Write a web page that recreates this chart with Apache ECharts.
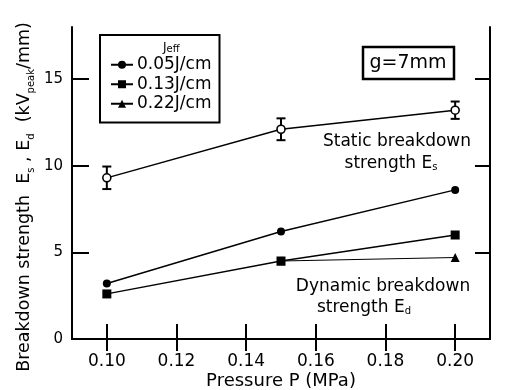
<!DOCTYPE html>
<html>
<head>
<meta charset="utf-8">
<script src="https://cdn.jsdelivr.net/npm/echarts@6.0.0/dist/echarts.min.js"></script>
<style>
  html, body { margin: 0; padding: 0; background: #fff; }
  #chart { width: 506px; height: 390px; }
</style>
</head>
<body>
<div id="chart"></div>
<script>
// pressure (MPa)
const pressure = [0.10, 0.15, 0.20]
const xTicks = [0.10, 0.12, 0.14, 0.16, 0.18, 0.20]
const yTicks = [0, 5, 10, 15]

// static breakdown strength Es with error
const staticEs = [9.3, 12.1, 13.2]
const staticErr = [0.65, 0.63, 0.5]

// dynamic breakdown strength Ed for each Jeff
const dyn005 = [3.2, 6.2, 8.6]
const dyn013 = [2.6, 4.5, 6.0]
const dyn022 = [null, 4.5, 4.7]

const seriesNames = ['0.05J/cm', '0.13J/cm', '0.22J/cm']

const font = 'DejaVu Sans, sans-serif'
const pairs = (ys) => pressure.map((x, i) => [x, ys[i]]).filter((d) => d[1] != null)

const chart = echarts.init(document.getElementById('chart'))

const tickCommon = {
  inside: true,
  length: 15,
  lineStyle: { color: '#000', width: 2 },
}

const subText = (size) => ({
  n: { fontSize: size, fontFamily: font, fill: '#000' },
  s: { fontSize: 10, fontFamily: font, fill: '#000', padding: [6, 0, 0, 0] },
})

chart.setOption({
  animation: false,
  backgroundColor: '#fff',
  textStyle: { fontFamily: font },
  grid: { left: 72, right: 16, top: 27, bottom: 51, outerBoundsMode: 'none', containLabel: false },
  legend: {
    data: seriesNames,
    orient: 'vertical',
    left: 100,
    top: 35,
    padding: [20, 8, 9, 10],
    itemGap: 0,
    itemWidth: 22,
    itemHeight: 10,
    borderColor: '#000',
    borderWidth: 2,
    backgroundColor: '#fff',
    textStyle: { fontSize: 17, lineHeight: 19.5, color: '#000', fontFamily: font, padding: [0, 0, 0, -1] },
  },
  xAxis: [
    {
      type: 'value',
      min: 0.09,
      max: 0.21,
      name: 'Pressure P (MPa)',
      nameLocation: 'middle',
      nameGap: 33,
      nameMoveOverlap: false,
      nameTextStyle: { fontSize: 18, color: '#000', fontFamily: font },
      axisLine: { lineStyle: { color: '#000', width: 2 } },
      axisTick: { ...tickCommon, customValues: xTicks },
      axisLabel: {
        customValues: xTicks,
        margin: 14,
        fontSize: 17,
        color: '#000',
        formatter: (v) => v.toFixed(2),
      },
      splitLine: { show: false },
    },
    {
      type: 'value',
      position: 'top',
      min: 0.09,
      max: 0.21,
      axisLine: { show: true, lineStyle: { color: '#000', width: 2 } },
      axisTick: { ...tickCommon, length: 12, customValues: xTicks },
      axisLabel: { show: false },
      splitLine: { show: false },
    },
  ],
  yAxis: [
    {
      type: 'value',
      min: 0,
      max: 18,
      name: '{n|Breakdown strength  E}{s|s}{n| , E}{s|d}{n|  (kV}{s|peak}{n|/mm)}',
      nameLocation: 'middle',
      nameGap: 39,
      nameMoveOverlap: false,
      nameTextStyle: {
        padding: [0, 28, 0, 0],
        rich: {
          n: { fontSize: 17.5, color: '#000', fontFamily: font, lineHeight: 20, verticalAlign: 'bottom' },
          s: { fontSize: 10, color: '#000', fontFamily: font, lineHeight: 20, verticalAlign: 'bottom', padding: [0, 0, -3, 0] },
        },
      },
      axisLine: { show: true, lineStyle: { color: '#000', width: 2 } },
      axisTick: { ...tickCommon, length: 17, customValues: yTicks },
      axisLabel: { customValues: yTicks, margin: 9, fontSize: 15, color: '#000' },
      splitLine: { show: false },
    },
    {
      type: 'value',
      position: 'right',
      min: 0,
      max: 18,
      axisLine: { show: true, lineStyle: { color: '#000', width: 2 } },
      axisTick: { ...tickCommon, customValues: yTicks },
      axisLabel: { show: false },
      splitLine: { show: false },
    },
  ],
  series: [
    {
      name: 'Es error',
      type: 'custom',
      z: 3,
      data: pressure.map((x, i) => [x, staticEs[i] - staticErr[i], staticEs[i] + staticErr[i]]),
      renderItem: (params, api) => {
        const top = api.coord([api.value(0), api.value(2)])
        const bot = api.coord([api.value(0), api.value(1)])
        const w = 4.5
        const st = { stroke: '#000', lineWidth: 2 }
        return {
          type: 'group',
          children: [
            { type: 'line', shape: { x1: top[0], y1: top[1], x2: bot[0], y2: bot[1] }, style: st },
            { type: 'line', shape: { x1: top[0] - w, y1: top[1], x2: top[0] + w, y2: top[1] }, style: st },
            { type: 'line', shape: { x1: bot[0] - w, y1: bot[1], x2: bot[0] + w, y2: bot[1] }, style: st },
          ],
        }
      },
    },
    {
      name: 'Es',
      type: 'line',
      z: 4,
      data: pairs(staticEs),
      symbol: 'circle',
      symbolSize: 8,
      itemStyle: { color: '#fff', borderColor: '#000', borderWidth: 1.6 },
      lineStyle: { color: '#000', width: 1.4 },
    },
    {
      name: seriesNames[0],
      type: 'line',
      z: 4,
      data: pairs(dyn005),
      symbol: 'circle',
      symbolSize: 8,
      itemStyle: { color: '#000' },
      lineStyle: { color: '#000', width: 1.4 },
    },
    {
      name: seriesNames[1],
      type: 'line',
      z: 4,
      data: pairs(dyn013),
      symbol: 'rect',
      symbolSize: 9,
      itemStyle: { color: '#000' },
      lineStyle: { color: '#000', width: 1.4 },
    },
    {
      name: seriesNames[2],
      type: 'line',
      z: 2,
      data: pairs(dyn022),
      symbol: 'triangle',
      symbolSize: 9,
      itemStyle: { color: '#000' },
      lineStyle: { color: '#000', width: 1.1 },
    },
  ],
  graphic: [
    {
      type: 'text',
      left: 163,
      top: 42,
      z: 100,
      style: { text: 'J{e|eff}', fontSize: 12, fontFamily: font, fill: '#000', rich: { e: { fontSize: 10, fontFamily: font, fill: '#000', padding: [2, 0, 0, 0] } } },
    },
    {
      type: 'rect',
      shape: { x: 363, y: 47, width: 91, height: 32 },
      style: { fill: '#fff', stroke: '#000', lineWidth: 2.5 },
      z: 100,
    },
    {
      type: 'text',
      x: 408,
      y: 63,
      z: 101,
      style: { text: 'g=7mm', fontSize: 19, fontFamily: font, fill: '#000', align: 'center', verticalAlign: 'middle' },
    },
    {
      type: 'text',
      x: 397,
      y: 142,
      z: 100,
      style: { text: 'Static breakdown', fontSize: 17, fontFamily: font, fill: '#000', align: 'center', verticalAlign: 'middle' },
    },
    {
      type: 'text',
      x: 391,
      y: 164,
      z: 100,
      style: { text: '{n|strength E}{s|s}', align: 'center', verticalAlign: 'middle', rich: subText(17) },
    },
    {
      type: 'text',
      x: 383,
      y: 287,
      z: 100,
      style: { text: 'Dynamic breakdown', fontSize: 17, fontFamily: font, fill: '#000', align: 'center', verticalAlign: 'middle' },
    },
    {
      type: 'text',
      x: 364,
      y: 308,
      z: 100,
      style: { text: '{n|strength E}{s|d}', align: 'center', verticalAlign: 'middle', rich: subText(17) },
    },
  ],
})
</script>
</body>
</html>
